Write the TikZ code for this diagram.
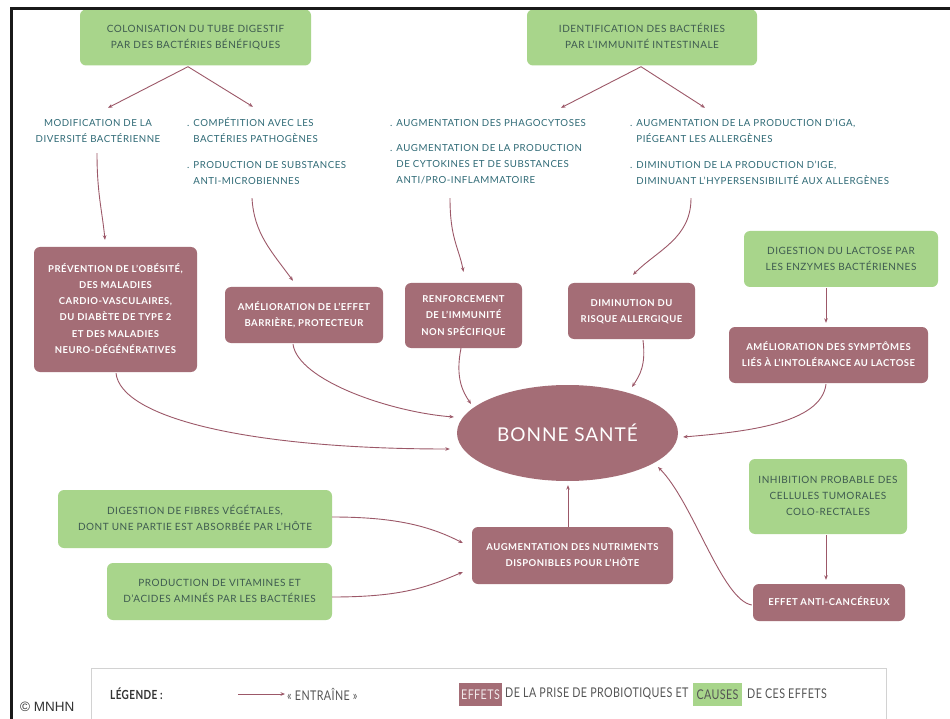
\documentclass[tikz,border=0pt]{standalone}
\usepackage{fontspec}
\setmainfont[LetterSpace=5]{Lato}
\newfontfamily\legfont[FakeStretch=0.8,LetterSpace=3]{Lato}
\newfontfamily\mnhnfont{Liberation Sans}
\usetikzlibrary{arrows.meta,shapes.geometric}
\definecolor{cmauve}{HTML}{A46D76}
\definecolor{cgreen}{HTML}{A8D58B}
\definecolor{carrow}{HTML}{9C5868}
\definecolor{cteal}{HTML}{2F6A76}
\definecolor{cgtext}{HTML}{3E5B50}
\definecolor{clegline}{HTML}{D2D2D2}
\definecolor{clegtext}{HTML}{555555}
\newcommand\mlc[1]{\begin{tabular}{@{}c@{}}#1\end{tabular}}
\newcommand\mll[1]{\begin{tabular}{@{}l@{}}#1\end{tabular}}
\newcommand\ind{\hphantom{. }}
\begin{document}
\begin{tikzpicture}[x=1pt,y=-1pt,
  gbox/.style={rounded corners=6pt, fill=cgreen, text=cgtext, inner sep=0pt,
    font=\fontsize{10}{16}\selectfont},
  mbox/.style={rounded corners=6pt, fill=cmauve, text=white, inner sep=0pt,
    font=\bfseries\fontsize{9.5}{16.3}\selectfont},
  ttext/.style={text=cteal, inner sep=0pt, font=\fontsize{9.7}{16}\selectfont},
  arr/.style={draw=carrow, line width=0.9pt, -{Stealth[length=4.5pt,width=3.6pt]}},
  legtext/.style={text=clegtext, inner sep=0pt, font=\legfont\fontsize{13.4}{14}\selectfont}]
\useasboundingbox (0,0) rectangle (950,719);
\fill[white] (0,0) rectangle (950,719);

% ---------- top causes ----------
\node[gbox, minimum width=231pt, minimum height=56pt] (g1) at (195.5,37.5)
  {\mlc{COLONISATION DU TUBE DIGESTIF\\PAR DES BACTÉRIES BÉNÉFIQUES}};
\node[gbox, minimum width=230pt, minimum height=56pt] (g2) at (642,37.5)
  {\mlc{IDENTIFICATION DES BACTÉRIES\\PAR L'IMMUNITÉ INTESTINALE}};

% ---------- intermediate texts ----------
\node[ttext] (tmod) at (98,131.5) {\mlc{MODIFICATION DE LA\\DIVERSITÉ BACTÉRIENNE}};
\node[ttext, anchor=west] (tcomp) at (187,131.5) {\mll{. COMPÉTITION AVEC LES\\\ind BACTÉRIES PATHOGÈNES}};
\node[ttext, anchor=west] (tprod) at (187,173) {\mll{. PRODUCTION DE SUBSTANCES\\\ind ANTI-MICROBIENNES}};
\node[ttext, anchor=west] (tphago) at (390,123) {\mll{. AUGMENTATION DES PHAGOCYTOSES}};
\node[ttext, anchor=west] (tcyto) at (390,164.5) {\mll{. AUGMENTATION DE LA PRODUCTION\\\ind DE CYTOKINES ET DE SUBSTANCES\\\ind ANTI/PRO-INFLAMMATOIRE}};
\node[ttext, anchor=west] (tiga) at (630,131) {\mll{. AUGMENTATION DE LA PRODUCTION D'IGA,\\\ind PIÉGEANT LES ALLERGÈNES}};
\node[ttext, anchor=west] (tige) at (630,173) {\mll{. DIMINUTION DE LA PRODUCTION D'IGE,\\\ind DIMINUANT L'HYPERSENSIBILITÉ AUX ALLERGÈNES}};

% ---------- effects ----------
\node[mbox, minimum width=163pt, minimum height=125pt] (mprev) at (115.5,309.5)
  {\mlc{PRÉVENTION DE L'OBÉSITÉ,\\DES MALADIES\\CARDIO-VASCULAIRES,\\DU DIABÈTE DE TYPE 2\\ET DES MALADIES\\NEURO-DÉGÉNÉRATIVES}};
\node[mbox, minimum width=158pt, minimum height=56pt] (mbarr) at (304,315)
  {\mlc{AMÉLIORATION DE L'EFFET\\BARRIÈRE, PROTECTEUR}};
\node[mbox, minimum width=117pt, minimum height=65pt] (mrenf) at (463.5,315.5)
  {\mlc{RENFORCEMENT\\DE L'IMMUNITÉ\\NON SPÉCIFIQUE}};
\node[mbox, minimum width=127pt, minimum height=56pt] (mdimi) at (631.5,311)
  {\mlc{DIMINUTION DU\\RISQUE ALLERGIQUE}};
\node[gbox, minimum width=194pt, minimum height=56pt] (glact) at (841,259)
  {\mlc{DIGESTION DU LACTOSE PAR\\LES ENZYMES BACTÉRIENNES}};
\node[mbox, minimum width=199pt, minimum height=56pt] (msymp) at (828.5,355)
  {\mlc{AMÉLIORATION DES SYMPTÔMES\\LIÉS À L'INTOLÉRANCE AU LACTOSE}};

% ---------- centre ----------
\node[ellipse, fill=cmauve, text=white, inner sep=0pt, minimum width=221pt, minimum height=96pt,
  font=\fontsize{19}{20}\selectfont] (ell) at (567.5,433) {BONNE SANTÉ};

% ---------- bottom ----------
\node[gbox, minimum width=274pt, minimum height=58pt] (gfib) at (195,519)
  {\mlc{DIGESTION DE FIBRES VÉGÉTALES,\\DONT UNE PARTIE EST ABSORBÉE PAR L'HÔTE}};
\node[gbox, minimum width=225pt, minimum height=57pt] (gvit) at (219.5,591.5)
  {\mlc{PRODUCTION DE VITAMINES ET\\D'ACIDES AMINÉS PAR LES BACTÉRIES}};
\node[mbox, minimum width=201pt, minimum height=57pt] (mnutr) at (572.5,555.5)
  {\mlc{AUGMENTATION DES NUTRIMENTS\\DISPONIBLES POUR L'HÔTE}};
\node[gbox, minimum width=158pt, minimum height=75pt] (ginh) at (828,496.5)
  {\mlc{INHIBITION PROBABLE DES\\CELLULES TUMORALES\\COLO-RECTALES}};
\node[mbox, minimum width=152pt, minimum height=37pt] (mcanc) at (829,602.5)
  {\mlc{EFFET ANTI-CANCÉREUX}};

% ---------- connectors ----------
\draw[arr] ([shift={(-7.5,1)}]g1.south) -- ([shift={(10,-7.5)}]tmod.north);
\draw[arr] ([shift={(-7.5,1)}]g1.south) -- ([shift={(66,-8.5)}]tcomp.north west);
\draw[arr] ([shift={(-1,1)}]g2.south) -- ([shift={(171,-7)}]tphago.north west);
\draw[arr] ([shift={(-1,1)}]g2.south) -- ([shift={(75,-7)}]tiga.north west);

\draw[arr] ([shift={(-1,5.5)}]tmod.south) .. controls +(0,40) and +(-3,-30) .. ([shift={(-10.5,-7)}]mprev.north);
\draw[arr] ([shift={(65,9)}]tprod.south west) .. controls +(2,35) and +(-22,-30) .. ([shift={(-11,-6)}]mbarr.north);
\draw[arr] ([shift={(60,9.5)}]tcyto.south west) .. controls +(0,40) and +(-5,-25) .. ([shift={(0,-11)}]mrenf.north);
\draw[arr] ([shift={(61,9)}]tige.south west) .. controls +(0,40) and +(25,-25) .. ([shift={(1.5,-8)}]mdimi.north);
\draw[arr] ([shift={(-15,1)}]glact.south) -- ([shift={(-2.5,-4)}]msymp.north);

\draw[arr] ([shift={(0.5,1)}]mprev.south) .. controls +(5,45) and +(-200,0) .. ([shift={(-7,16)}]ell.west);
\draw[arr] ([shift={(-11,1)}]mbarr.south) .. controls +(5,36) and +(-64,-5) .. ([shift={(-3,-16)}]ell.west);
\draw[arr] ([shift={(-2.5,0)}]mrenf.south) .. controls +(-6,30) and +(-8,-12) .. ([shift={(-96.5,-29)}]ell.center);
\draw[arr] ([shift={(11.5,1)}]mdimi.south) .. controls +(3,25) and +(8,-12) .. ([shift={(64.5,-46)}]ell.center);
\draw[arr] ([shift={(-2.5,1)}]msymp.south) .. controls +(-5,40) and +(60,-5) .. ([shift={(5,4)}]ell.east);
\draw[arr] ([shift={(-4.5,0)}]mnutr.north) -- ([shift={(0.5,4)}]ell.south);
\draw[arr] ([shift={(-1,2.5)}]mcanc.west) .. controls +(-30,-5) and +(35,35) .. ([shift={(90.5,34)}]ell.center);
\draw[arr] ([shift={(-2,1)}]ginh.south) -- ([shift={(-3,-4)}]mcanc.north);
\draw[arr] ([shift={(0,-2)}]gfib.east) .. controls +(60,0) and +(-35,-18) .. ([shift={(-9,-12.5)}]mnutr.west);
\draw[arr] ([shift={(0,5.5)}]gvit.east) .. controls +(70,0) and +(-35,15) .. ([shift={(-9,16.5)}]mnutr.west);

% ---------- frame ----------
\draw[line width=3pt, black!90] (11,725) -- (11,9) -- (955,9);

% ---------- legend ----------
\draw[clegline, line width=1pt] (91,725) -- (91,668) -- (886,668) -- (886,725);
\node[anchor=west, inner sep=0pt, text=black!80, font=\legfont\bfseries\fontsize{12.5}{14}\selectfont] (lleg) at (110,694) {LÉGENDE :};
\node[legtext, anchor=west] (lent) at (287,694) {« ENTRAÎNE »};
\coordinate (larr) at (238,694);
\draw[arr, line width=0.8pt] (larr) -- ([xshift=-2pt]lent.west);
\node[legtext, fill=cmauve, text=white!85!cmauve, minimum width=43pt, minimum height=23pt] (leff) at (480.5,694.5) {EFFETS};
\node[legtext, anchor=west] (lprise) at (505,694) {DE LA PRISE DE PROBIOTIQUES ET};
\node[legtext, fill=cgreen, minimum width=49pt, minimum height=23pt] (lcau) at (717.5,694.5) {CAUSES};
\node[legtext, anchor=west] (lces) at (747,694) {DE CES EFFETS};
\node[anchor=west, inner sep=0pt, text=black!80, font=\mnhnfont\fontsize{13.5}{14}\selectfont] (mnhn) at (20,707) {© MNHN};
\end{tikzpicture}
\end{document}
